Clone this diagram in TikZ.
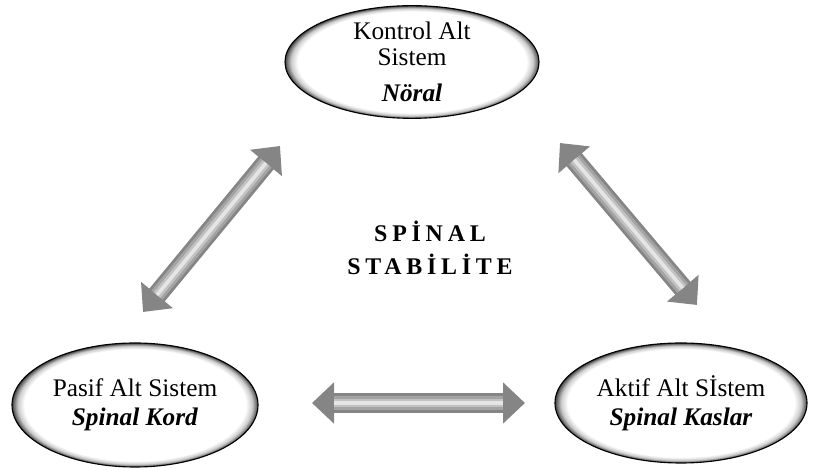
\documentclass[tikz,border=0pt]{standalone}
\usepackage{fontspec}
\setmainfont{Liberation Serif}
\newfontfamily\stabfont[LetterSpace=20]{Liberation Serif}
\usepackage{tikz}
\usetikzlibrary{shapes,arrows.meta,positioning,calc}

\pgfdeclareradialshading{rim}{\pgfpoint{0cm}{0cm}}{%
  color(0bp)=(white); color(22.5bp)=(white); color(23.8bp)=(black!20);
  color(24.6bp)=(black!55); color(25bp)=(black!75); color(50bp)=(black!75)}

\tikzset{
  subsys/.style={ellipse, draw=black, line width=0.8pt, shade, shading=rim,
    align=center, inner sep=0pt, font=\fontsize{18}{18.5}\selectfont},
  link/.style={draw=black!48, line width=5mm,
    {Triangle[width=10mm,length=5.5mm]}-{Triangle[width=10mm,length=5.5mm]},
    postaction={draw=black!36, line width=3.6mm, arrows=-, shorten <=5.5mm, shorten >=5.5mm},
    postaction={draw=black!24, line width=2.2mm, arrows=-, shorten <=5.5mm, shorten >=5.5mm},
    postaction={draw=black!10, line width=0.9mm, arrows=-, shorten <=5.5mm, shorten >=5.5mm}},
  stabtext/.style={align=center, font=\stabfont\bfseries\fontsize{17}{23.5}\selectfont}
}

\begin{document}
\begin{tikzpicture}
    \useasboundingbox (0,0) rectangle (20.425,11.75);

    % Subsystems
    \node[subsys, minimum width=6.35cm, minimum height=2.8cm] (kontrol) at (10.3,10.2)
        {Kontrol Alt\\Sistem\\[7pt]\textbf{\textit{Nöral}}};
    \node[subsys, minimum width=6.15cm, minimum height=3.1cm] (pasif) at (3.375,1.625)
        {Pasif Alt Sistem\\[2pt]\textbf{\textit{Spinal Kord}}};
    \node[subsys, minimum width=6.3cm, minimum height=3.0cm] (aktif) at (17.025,1.675)
        {Aktif Alt Sİstem\\[2pt]\textbf{\textit{Spinal Kaslar}}};

    % Centre
    \node[stabtext] (stab) at (10.75,5.55) {SPİNAL\\STABİLİTE};

    % Arrow ends
    \coordinate (pk1) at (3.575,3.95);
    \coordinate (pk2) at (7.0,8.1);
    \coordinate (ka1) at (14.0,8.175);
    \coordinate (ka2) at (17.425,4.125);
    \coordinate (pa1) at (7.8,1.675);
    \coordinate (pa2) at (13.125,1.675);

    \draw[link] (pk1) -- (pk2);
    \draw[link] (ka1) -- (ka2);
    \draw[link] (pa1) -- (pa2);
\end{tikzpicture}
\end{document}
